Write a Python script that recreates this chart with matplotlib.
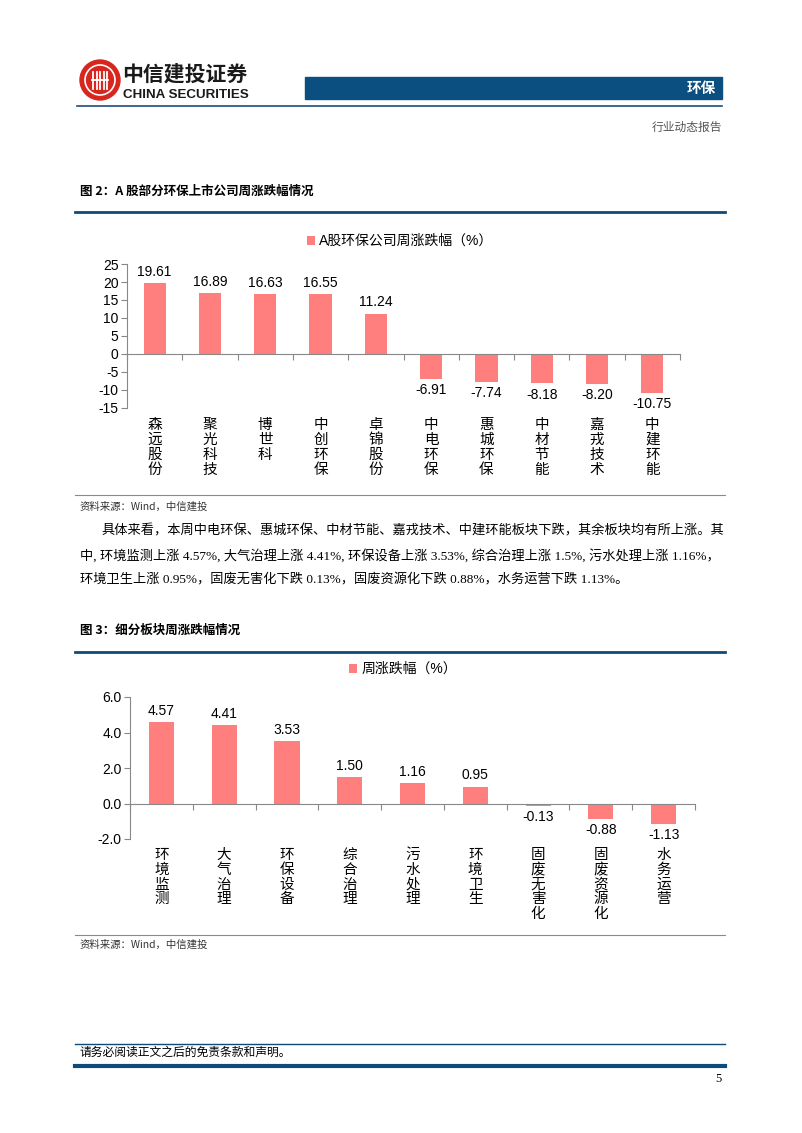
import numpy as np
import matplotlib.pyplot as plt
from matplotlib.patches import Rectangle, Ellipse
from matplotlib.lines import Line2D

plt.rcParams['font.family'] = ['Noto Sans CJK SC', 'DejaVu Sans']

# 数据
companies = ["森远股份", "聚光科技", "博世科", "中创环保", "卓锦股份",
             "中电环保", "惠城环保", "中材节能", "嘉戎技术", "中建环能"]
company_chg = [19.61, 16.89, 16.63, 16.55, 11.24, -6.91, -7.74, -8.18, -8.20, -10.75]
company_ticks = [25, 20, 15, 10, 5, 0, -5, -10, -15]

sectors = ["环境监测", "大气治理", "环保设备", "综合治理", "污水处理",
           "环境卫生", "固废无害化", "固废资源化", "水务运营"]
sector_chg = [4.57, 4.41, 3.53, 1.50, 1.16, 0.95, -0.13, -0.88, -1.13]
sector_ticks = [6.0, 4.0, 2.0, 0.0, -2.0]

W, H = 802, 1133
BAR = '#FF7F7F'
NAVY = '#0E4A7A'
NUM_FONT = ['Liberation Sans', 'Noto Sans CJK SC']
SERIF = ['Liberation Serif', 'Noto Sans CJK SC']

fig = plt.figure(figsize=(W / 100, H / 100), dpi=100)


def fx(x):
    return x / W


def fy(y):
    return 1 - y / H


def hline(y, x0, x1, color=NAVY, lw=1.0):
    fig.add_artist(Line2D([fx(x0), fx(x1)], [fy(y), fy(y)], color=color, lw=lw,
                          transform=fig.transFigure))


def txt(x, y, s, **kw):
    fig.text(fx(x), fy(y), s, va='center', **kw)


def circ(cx, cy, r, **kw):
    fig.add_artist(Ellipse((fx(cx), fy(cy)), 2 * r / W, 2 * r / H,
                           transform=fig.transFigure, **kw))


# 页眉
circ(100, 80, 20, color='#D7261E')
circ(100, 80, 15, fill=False, ec='white', lw=1.2)
for dx in [-7, -3.5, 0, 3.5, 7]:
    fig.add_artist(Line2D([fx(100 + dx), fx(100 + dx)], [fy(72), fy(89)],
                          color='white', lw=1.3, transform=fig.transFigure))
fig.add_artist(Line2D([fx(92), fx(108)], [fy(80), fy(80)], color='white', lw=1.3,
                      transform=fig.transFigure))
txt(122, 74, "中信建投证券", fontsize=15, fontweight='bold', color='#1a1a1a')
txt(123, 95, "CHINA SECURITIES", fontsize=9.6, fontweight='bold', color='#1a1a1a',
    family=['Liberation Sans'])
fig.add_artist(Rectangle((fx(305), fy(99)), fx(722) - fx(305), fy(77) - fy(99),
                         color='#0B4F80', transform=fig.transFigure))
txt(716, 88, "环保", fontsize=10.5, fontweight='bold', color='white', ha='right')
hline(106, 77, 722, color='#1F4E79', lw=1.2)
txt(722, 127, "行业动态报告", fontsize=8.5, color='#555555', ha='right')

# 图 2
txt(80, 191, "图 2：A 股部分环保上市公司周涨跌幅情况", fontsize=9, fontweight='bold')
hline(212, 75, 725, lw=2)
hline(495, 75, 725, color='#6F8FAF', lw=0.8)
txt(80, 507, "资料来源：Wind，中信建投", fontsize=7.5, style='italic', color='#333333')

# 正文
txt(102, 531, "具体来看，本周中电环保、惠城环保、中材节能、嘉戎技术、中建环能板块下跌，其余板块均有所上涨。其",
    fontsize=9.5, family=SERIF)
txt(80, 556, "中, 环境监测上涨 4.57%, 大气治理上涨 4.41%, 环保设备上涨 3.53%, 综合治理上涨 1.5%, 污水处理上涨 1.16%，",
    fontsize=9.5, family=SERIF)
txt(80, 580, "环境卫生上涨 0.95%，固废无害化下跌 0.13%，固废资源化下跌 0.88%，水务运营下跌 1.13%。",
    fontsize=9.5, family=SERIF)

# 图 3
txt(80, 630, "图 3：细分板块周涨跌幅情况", fontsize=9, fontweight='bold')
hline(652, 75, 725, lw=2)
hline(935, 75, 725, color='#6F8FAF', lw=0.8)
txt(80, 945, "资料来源：Wind，中信建投", fontsize=7.5, style='italic', color='#333333')

# 页脚
hline(1044, 75, 725, lw=1)
txt(80, 1053, "请务必阅读正文之后的免责条款和声明。", fontsize=8.5, family=SERIF)
hline(1066, 75, 725, lw=3)
txt(722, 1079, "5", fontsize=9, family=['Liberation Serif'], ha='right')


def bar_chart(left, right, top, bottom, labels, values, ticks, fmt, legend_text,
              legend_xy, char_px, gap_px):
    ax = fig.add_axes([fx(left), fy(bottom), fx(right) - fx(left), fy(top) - fy(bottom)])
    x = np.arange(len(labels))
    ax.bar(x, values, width=0.4, color=BAR, label=legend_text, zorder=2)
    ax.set_xlim(-0.5, len(labels) - 0.5)
    ax.set_ylim(min(ticks), max(ticks))
    ax.set_yticks(ticks)
    ax.set_yticklabels([fmt % t for t in ticks], family=NUM_FONT, fontsize=10)
    for s in ['top', 'right']:
        ax.spines[s].set_visible(False)
    ax.spines['left'].set_color('#888888')
    ax.spines['bottom'].set_color('#888888')
    ax.spines['bottom'].set_position(('data', 0))
    ax.set_xticks(np.arange(len(labels) + 1) - 0.5)
    ax.set_xticklabels([])
    ax.tick_params(axis='x', direction='out', length=4, color='#888888')
    ax.tick_params(axis='y', direction='out', length=4, color='#888888', pad=2)
    ax.set_facecolor('none')
    for i, v in enumerate(values):
        ax.annotate("%.2f" % v, (i, v), xytext=(0, 3 if v >= 0 else -3),
                    textcoords='offset points', ha='center',
                    va='bottom' if v >= 0 else 'top', fontsize=10, family=NUM_FONT)
    for i, lab in enumerate(labels):
        for j, ch in enumerate(lab):
            ax.annotate(ch, (i, 0), xycoords=ax.get_xaxis_transform(),
                        xytext=(0, -(gap_px + j * char_px) * 0.72),
                        textcoords='offset points', ha='center', va='top',
                        fontsize=10.5)
    ax.legend(loc='center', bbox_to_anchor=(fx(legend_xy[0]), fy(legend_xy[1])),
              bbox_transform=fig.transFigure, frameon=False,
              handlelength=0.6, handleheight=0.6, handletextpad=0.3,
              prop={'family': NUM_FONT, 'size': 10})
    return ax


bar_chart(127, 680, 264, 408, companies, company_chg, company_ticks, "%d",
          "A股环保公司周涨跌幅（%）", (400, 241), 15, 10)
bar_chart(130, 695, 697, 839, sectors, sector_chg, sector_ticks, "%.1f",
          "周涨跌幅（%）", (403, 669), 14.8, 9)

fig.savefig('out.png', dpi=100)
